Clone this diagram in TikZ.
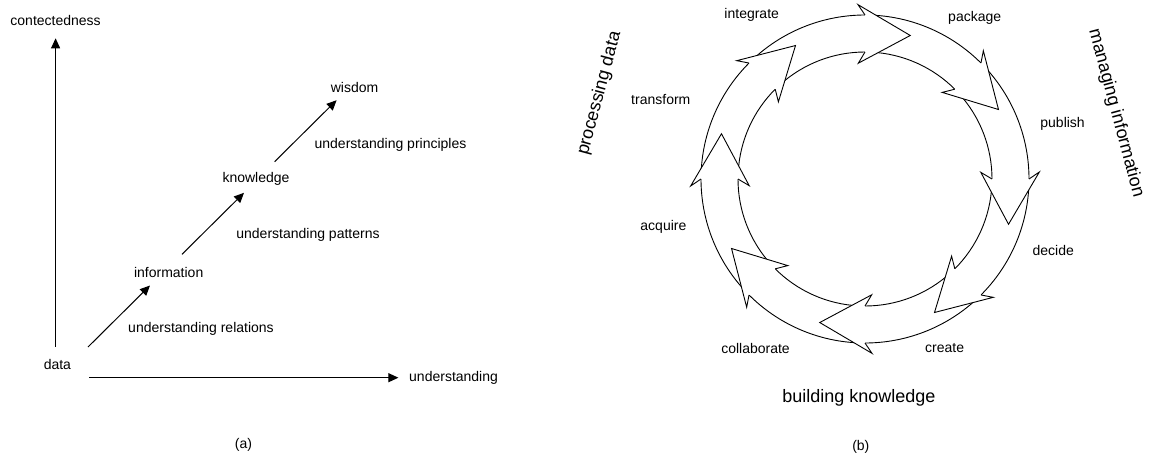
\documentclass[tikz,border=0pt]{standalone}
\usepackage{fontspec}
\setmainfont{Liberation Sans}
\usetikzlibrary{arrows.meta}
\begin{document}
\begin{tikzpicture}[x=1pt,y=1pt,
  lbl/.style={font=\fontsize{14}{16}\selectfont, inner sep=0pt},
  big/.style={font=\fontsize{18}{20}\selectfont, inner sep=0pt},
  axis/.style={line width=1pt, -{Triangle[length=10pt,width=9pt]}},
  ring/.style={line width=0.9pt, line join=miter},
]
\useasboundingbox (0,-458) rectangle (1149,0);

% ---------- (a) data -> wisdom ----------
\node[lbl] (yl)   at (55.6,-20)    {contectedness};
\node[lbl] (data) at (57.4,-364.3) {data};
\node[lbl] (info) at (168.7,-272.3) {information};
\node[lbl] (know) at (256,-179)    {knowledge};
\node[lbl] (wis)  at (354.6,-87.3) {wisdom};
\node[lbl, anchor=west] (xl) at (409,-377.7) {understanding};
\node[lbl] (rel)  at (201,-329)    {understanding relations};
\node[lbl] (pat)  at (308,-235)    {understanding patterns};
\node[lbl] (pri)  at (390.5,-145)  {understanding principles};
\node[lbl] (capa) at (243.4,-445)  {(a)};

\coordinate (vS) at (55.6,-346.7);
\coordinate (vE) at (55.6,-38.3);
\coordinate (hS) at (89,-377.7);
\coordinate (hE) at (398.4,-377.7);
\coordinate (s1) at (88,-347);    \coordinate (e1) at (150,-285.5);
\coordinate (s2) at (182,-254.3); \coordinate (e2) at (244,-192.8);
\coordinate (s3) at (274.6,-161.7); \coordinate (e3) at (336.6,-100.2);

\draw[axis] (vS) -- (vE);
\draw[axis] (hS) -- (hE);
\draw[axis] (s1) -- (e1);
\draw[axis] (s2) -- (e2);
\draw[axis] (s3) -- (e3);

% ---------- (b) cycle of eight curved arrows ----------
\begin{scope}[shift={(865,-179)}]
  % arrow bodies: each starts under the previous head
  \foreach \b in {90,45,0,-45,-90,-135,-180,-225} {
    \draw[ring] (\b+42:164) arc[start angle=\b+42, end angle=\b, radius=164];
    \draw[ring] (\b+42:127) arc[start angle=\b+42, end angle=\b, radius=127];
  }
  % arrow heads on top
  \foreach \b in {90,45,0,-45,-90,-135,-180,-225} {
    \fill[white] (\b:164) -- (\b+2.3:174.5) -- (\b-17.5:150.5)
                 -- (\b+3.3:116) -- (\b:127) -- cycle;
    \draw[ring] (\b:164) -- (\b+2.3:174.5) -- (\b-17.5:150.5)
                -- (\b+3.3:116) -- (\b:127);
  }
\end{scope}

\node[lbl] (int) at (751.7,-15)   {integrate};
\node[lbl] (pkg) at (974.7,-18.3) {package};
\node[lbl] (trf) at (660.8,-99.3) {transform};
\node[lbl] (pub) at (1062.6,-124.3) {publish};
\node[lbl] (acq) at (663.4,-226.7) {acquire};
\node[lbl] (dec) at (1053.2,-250.7) {decide};
\node[lbl] (col) at (755.5,-348.3) {collaborate};
\node[lbl] (cre) at (944.6,-348.3) {create};
\node[big, rotate=75]  (pd) at (599.5,-93.3) {processing data};
\node[big, rotate=-75] (mi) at (1116,-113) {managing information};
\node[big] (bk) at (858.9,-398.3) {building knowledge};
\node[lbl] (capb) at (860.8,-446.7) {(b)};
\end{tikzpicture}
\end{document}
